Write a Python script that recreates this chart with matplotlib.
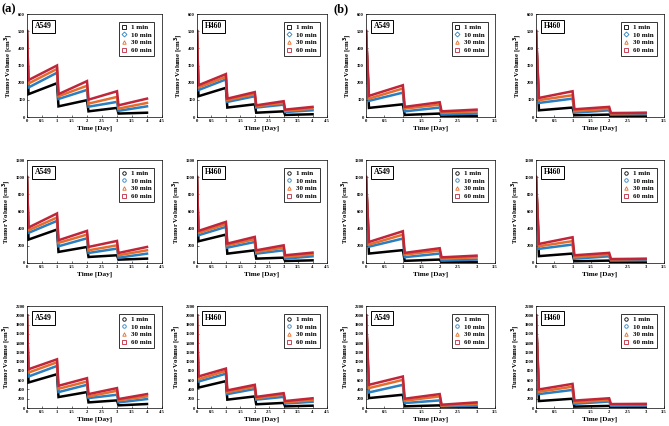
import matplotlib
matplotlib.use("Agg")
import matplotlib.pyplot as plt
from matplotlib.lines import Line2D

plt.rcParams['font.family'] = ['Liberation Serif', 'DejaVu Serif']
plt.rcParams['font.weight'] = 'bold'

# ---------------- data ----------------
series_labels = ['1 min', '10 min', '30 min', '60 min']
times_a = [0, 0.05, 1, 1.05, 2, 2.05, 3, 3.05, 4]
times_b = [0, 0.08, 1, 1.05, 2, 2.05, 3]

# row 1 (V0 = 500)
a_A549_500 = [[500, 133, 197, 62, 98, 33, 53, 20, 25],
              [500, 172, 258, 105, 158, 60, 88, 36, 62],
              [500, 195, 280, 121, 182, 78, 117, 49, 82],
              [500, 215, 300, 133, 209, 101, 150, 68, 107]]
a_H460_500 = [[500, 121, 170, 55, 74, 25, 33, 12, 16],
              [500, 157, 219, 88, 121, 55, 72, 29, 39],
              [500, 172, 234, 98, 133, 62, 82, 35, 49],
              [500, 185, 250, 107, 145, 68, 92, 43, 59]]
b_A549_500 = [[500, 53, 74, 12, 20, 4, 6],
              [500, 94, 142, 33, 55, 14, 20],
              [500, 107, 166, 49, 72, 25, 33],
              [500, 123, 185, 59, 86, 33, 43]]
b_H460_500 = [[500, 39, 55, 10, 14, 4, 4],
              [500, 82, 107, 25, 39, 14, 16],
              [500, 98, 127, 33, 49, 20, 23],
              [500, 111, 150, 45, 59, 23, 25]]

# row 2 (V0 = 1000)
a_A549_1000 = [[1000, 273, 390, 129, 187, 70, 90, 39, 51],
               [1000, 351, 491, 195, 288, 117, 168, 62, 109],
               [1000, 382, 530, 234, 331, 148, 206, 90, 148],
               [1000, 413, 577, 265, 374, 187, 257, 117, 187]]
a_H460_1000 = [[1000, 253, 331, 109, 148, 51, 62, 23, 31],
               [1000, 323, 421, 179, 245, 109, 148, 51, 78],
               [1000, 351, 452, 206, 277, 129, 179, 70, 101],
               [1000, 374, 479, 226, 304, 148, 206, 90, 121]]
b_A549_1000 = [[1000, 110, 150, 25, 40, 8, 12],
               [1000, 190, 285, 68, 110, 28, 40],
               [1000, 215, 330, 98, 145, 50, 66],
               [1000, 245, 370, 118, 172, 66, 86]]
b_H460_1000 = [[1000, 80, 110, 20, 28, 8, 8],
               [1000, 165, 215, 50, 78, 28, 32],
               [1000, 195, 255, 66, 98, 40, 46],
               [1000, 222, 300, 90, 118, 46, 50]]

# row 3 (V0 = 2000)
a_A549_2000 = [[2000, 550, 729, 236, 343, 121, 164, 57, 86],
               [2000, 679, 907, 343, 500, 214, 286, 121, 193],
               [2000, 764, 986, 414, 571, 250, 371, 164, 250],
               [2000, 836, 1050, 479, 643, 300, 429, 193, 300]]
a_H460_2000 = [[2000, 440, 580, 180, 250, 80, 110, 35, 50],
               [2000, 570, 740, 300, 410, 180, 240, 95, 135],
               [2000, 620, 800, 340, 460, 210, 290, 120, 170],
               [2000, 680, 850, 380, 500, 240, 320, 150, 210]]
b_A549_2000 = [[2000, 214, 286, 36, 57, 14, 14],
               [2000, 336, 500, 107, 164, 36, 50],
               [2000, 429, 607, 157, 250, 50, 86],
               [2000, 500, 679, 200, 300, 71, 121]]
b_H460_2000 = [[2000, 150, 200, 30, 45, 10, 10],
               [2000, 300, 390, 90, 140, 50, 55],
               [2000, 350, 460, 120, 170, 70, 80],
               [2000, 400, 520, 160, 210, 85, 90]]

# ---------------- layout ----------------
W, H = 669, 426
fig = plt.figure(figsize=(W / 100, H / 100), dpi=100)

col_px = [(27, 162), (197, 327), (366, 495), (536, 664)]
row_px = [(14, 117), (160, 263), (306, 408)]

colors = ['#000000', '#2a7fc0', '#e36d2c', '#c0263a']
markers_row1 = ['s', 'D', '^', 's']
markers_other = ['o', 'o', '^', 's']

panels = [
    [(a_A549_500, times_a, 'A549'), (a_H460_500, times_a, 'H460'),
     (b_A549_500, times_b, 'A549'), (b_H460_500, times_b, 'H460')],
    [(a_A549_1000, times_a, 'A549'), (a_H460_1000, times_a, 'H460'),
     (b_A549_1000, times_b, 'A549'), (b_H460_1000, times_b, 'H460')],
    [(a_A549_2000, times_a, 'A549'), (a_H460_2000, times_a, 'H460'),
     (b_A549_2000, times_b, 'A549'), (b_H460_2000, times_b, 'H460')],
]
ylims = [(600, 100), (1200, 200), (2200, 200)]

for r, row in enumerate(panels):
    for c, (data, times, cell) in enumerate(row):
        x0, x1 = col_px[c]
        t0, t1 = row_px[r]
        ax = fig.add_axes([x0 / W, 1 - t1 / H, (x1 - x0) / W, (t1 - t0) / H])
        for i, ys in enumerate(data):
            ax.plot(times, ys, color=colors[i], lw=1.8, solid_joinstyle='miter')
        ymax, ystep = ylims[r]
        ax.set_ylim(0, ymax)
        ax.set_yticks(range(0, ymax + 1, ystep))
        xmax = 4.5 if c < 2 else 3.5
        ax.set_xlim(0, xmax)
        xt = [k * 0.5 for k in range(int(xmax / 0.5) + 1)]
        ax.set_xticks(xt)
        ax.set_xticklabels(['%g' % v for v in xt])
        ax.tick_params(direction='in', length=1.5, width=0.4, labelsize=3.3, pad=1.5)
        for s in ax.spines.values():
            s.set_linewidth(0.5)
        ax.set_xlabel('Time [Day]', fontsize=5.2, fontweight='bold', labelpad=2)
        ax.set_ylabel('Tumor Volume [cm$^\\mathbf{3}$]', fontsize=4.9, fontweight='bold', labelpad=2)
        ax.text(0.06, 0.92, cell, transform=ax.transAxes, fontsize=5.5, fontweight='bold',
                va='top', ha='left',
                bbox=dict(facecolor='white', edgecolor='black', linewidth=0.7, boxstyle='square,pad=0.35'))
        mk = markers_row1 if r == 0 else markers_other
        handles = [Line2D([], [], linestyle='none', marker=mk[i], markersize=2.5,
                          markerfacecolor='none', markeredgecolor=colors[i], markeredgewidth=0.6)
                   for i in range(4)]
        leg = ax.legend(handles, series_labels, loc='upper right',
                        frameon=True, fancybox=False, edgecolor='black', handlelength=0.8,
                        handletextpad=0.6, borderpad=0.4, labelspacing=0.25,
                        bbox_to_anchor=(0.97, 0.96), prop={'weight': 'bold', 'size': 5})
        leg.get_frame().set_linewidth(0.7)

fig.text(2 / W, 1 - 9 / H, '(a)', fontsize=9, fontweight='bold', va='center', ha='left')
fig.text(334 / W, 1 - 9 / H, '(b)', fontsize=9, fontweight='bold', va='center', ha='left')

fig.savefig('out.png', dpi=100)
